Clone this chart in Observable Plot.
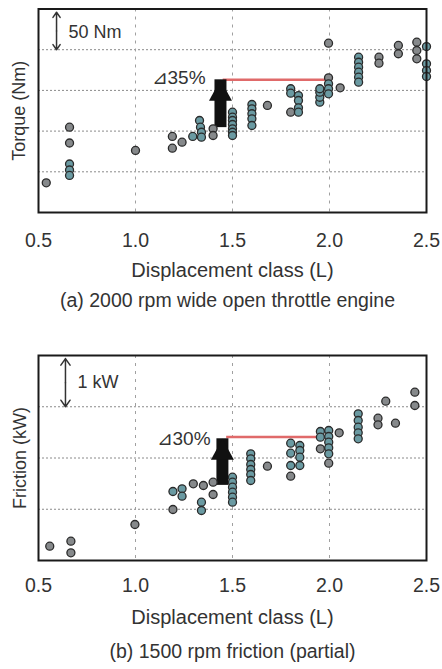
<!DOCTYPE html>
<html><head><meta charset="utf-8">
<script src="https://cdn.jsdelivr.net/npm/d3@7"></script>
<script src="https://cdn.jsdelivr.net/npm/@observablehq/plot@0.6"></script>
<style>
body{margin:0;background:#fff;width:442px;height:669px;position:relative;overflow:hidden;font-family:"Liberation Sans",Arial,sans-serif;}
#a{position:absolute;left:0;top:0}
#b{position:absolute;left:0;top:330px}
</style></head><body>
<div id="a"></div><div id="b"></div>
<script>
// ---- shared ----
const xTicks = [0.5, 1.0, 1.5, 2.0, 2.5];
const xGrid = [1.0, 1.5, 2.0];
const xLabel = "Displacement class (L)";

// ---- panel (a): 2000 rpm WOT torque ----
const torqueX = [0.54,0.66,0.66,0.66,0.66,0.66,1.00,1.19,1.24,1.19,1.295,1.33,1.335,1.34,1.34,1.40,1.40,
  1.50,1.50,1.50,1.50,1.50,1.50,1.50,1.60,1.60,1.60,1.60,1.60,1.68,1.80,1.80,1.80,1.84,1.84,1.84,1.84,
  1.95,1.95,1.95,1.95,1.995,1.995,1.995,1.995,1.995,2.055,2.15,2.15,2.15,2.15,2.15,2.15,2.255,2.255,
  2.355,2.355,2.45,2.45,2.45,2.50,2.50,2.50,2.50];
const torqueNm = [86.5,154.8,135.4,109.6,102.2,95.5,126.2,143.4,136.4,129.0,143.4,163.0,154.8,148.6,142.5,152.8,144.6,
  173.2,167.1,163.0,158.1,152.8,148.6,144.6,182.7,177.4,171.3,165.1,156.9,181.5,202.0,196.6,173.2,193.7,187.6,178.6,173.2,
  185.5,191.6,197.8,202.0,258.0,215.5,208.1,202.0,195.8,203.2,240.8,234.6,228.5,222.4,216.2,210.1,240.8,233.4,
  255.2,245.0,259.2,249.0,238.8,253.9,232.7,224.4,217.1];
const torqueTone = ["g","g","g","t","t","t","g","g","g","g","t","t","t","t","t","g","g",
  "t","t","t","t","t","t","t","t","t","t","t","t","g","t","t","g","t","t","t","t",
  "t","t","t","t","g","g","t","t","t","g","t","t","t","t","t","t","g","g",
  "g","g","g","g","g","t","t","t","t"];
const torqueGrid = [100, 150, 200, 250];
const torqueLabel = "Torque (Nm)";
const torqueCaption = "(a) 2000 rpm wide open throttle engine";
const torqueGain = {label: "⊿35%", tx: 1.361, ty: 215, x1: 1.452, x2: 1.996, y: 213, ax: 1.438, ay1: 169, ay2: 213};
const torqueScale = {label: "50 Nm", x: 0.593, lo: 250, hi: 296, tx: 0.655, ty: 272};

// ---- panel (b): 1500 rpm friction ----
const frictionX = [0.558,0.667,0.667,0.997,1.193,1.193,1.24,1.24,1.298,1.35,1.40,1.40,1.34,1.34,
  1.50,1.50,1.50,1.50,1.50,1.50,1.594,1.594,1.594,1.594,1.594,1.594,1.68,1.80,1.80,1.80,1.80,
  1.847,1.847,1.847,1.847,1.953,1.953,1.953,1.996,1.996,1.996,1.996,1.996,1.996,2.05,
  2.148,2.148,2.148,2.148,2.148,2.25,2.25,2.29,2.34,2.44,2.44];
const frictionKW = [0.279,0.377,0.150,0.702,1.346,0.995,1.399,1.255,1.497,1.463,1.528,1.288,1.138,0.976,
  1.625,1.528,1.430,1.333,1.235,1.138,2.082,1.984,1.873,1.776,1.678,1.561,1.840,2.289,2.094,1.854,1.645,
  2.244,2.146,2.016,1.854,2.517,2.406,2.180,2.537,2.420,2.308,2.199,2.082,1.899,2.492,
  2.862,2.732,2.601,2.492,2.375,2.777,2.648,3.108,2.679,3.284,3.024];
const frictionTone = ["g","g","g","g","t","g","t","t","g","g","g","g","t","t",
  "t","t","t","t","t","t","t","t","t","t","t","t","g","t","t","t","g",
  "t","t","t","t","t","t","g","t","t","t","t","t","g","g",
  "t","t","t","t","t","g","g","g","g","g","g"];
const frictionGrid = [1, 2, 3];
const frictionLabel = "Friction (kW)";
const frictionCaption = "(b) 1500 rpm friction (partial)";
const frictionGain = {label: "⊿30%", tx: 1.387, ty: 2.38, x1: 1.47, x2: 1.97, y: 2.41, ax: 1.448, ay1: 1.70, ay2: 2.375};
const frictionScale = {label: "1 kW", x: 0.639, lo: 3, hi: 3.94, tx: 0.701, ty: 3.47};

const FONT = '"Liberation Sans", Arial, Helvetica, sans-serif';
const TXT = "#333";
const headSymbol = {draw(ctx) { ctx.moveTo(0, 0); ctx.lineTo(-11.5, 21); ctx.lineTo(11.5, 21); ctx.closePath(); }};

function panel({xs, ys, tones, yDomain, grid, yLabel, caption, gain, scaleMark, height, marginTop, marginBottom,
                tickPad, labelDy, capDy, capDx, yLabelDx}) {
  const rows = xs.map((x, i) => ({x, y: ys[i], tone: tones[i]}));
  return Plot.plot({
    width: 442, height, marginTop, marginBottom, marginLeft: 38, marginRight: 16,
    x: {domain: [0.5, 2.5]},
    y: {domain: yDomain, axis: null},
    color: {domain: ["g", "t"], range: ["#86898b", "#6a9aa2"]},
    style: {fontFamily: FONT, background: "white"},
    marks: [
      Plot.gridY(grid, {stroke: "#8a8a8a", strokeOpacity: 1, strokeDasharray: "2,2"}),
      Plot.gridX(xGrid, {stroke: "#a0a0a0", strokeOpacity: 1, strokeDasharray: "3,5"}),
      Plot.axisX(xTicks, {tickSize: 0, tickPadding: tickPad, fontSize: 19.5, fill: TXT, tickFormat: d => d.toFixed(1), label: null}),
      Plot.ruleY([gain], {x1: "x1", x2: "x2", y: "y", stroke: "#e06a6a", strokeWidth: 2.5}),
      Plot.ruleX([gain], {x: "ax", y1: "ay1", y2: "ay2", stroke: "#111", strokeWidth: 12, insetTop: 12}),
      Plot.dot([gain], {x: "ax", y: "ay2", symbol: headSymbol, r: 10, fill: "#111"}),
      Plot.text([gain], {x: "tx", y: "ty", text: "label", textAnchor: "end", lineAnchor: "middle", fontSize: 19, fill: TXT}),
      Plot.dot(rows, {x: "x", y: "y", r: 4, fill: "tone", stroke: "#2b2b2b", strokeWidth: 1.3}),
      Plot.arrow([scaleMark], {x1: "x", x2: "x", y1: d => (d.lo + d.hi) / 2, y2: "hi", stroke: "#333", strokeWidth: 1.5, headLength: 9, headAngle: 70}),
      Plot.arrow([scaleMark], {x1: "x", x2: "x", y1: d => (d.lo + d.hi) / 2, y2: "lo", stroke: "#333", strokeWidth: 1.5, headLength: 9, headAngle: 70}),
      Plot.text([scaleMark], {x: "tx", y: "ty", text: "label", textAnchor: "start", lineAnchor: "middle", fontSize: 18, fill: TXT}),
      Plot.frame({stroke: "#1a1a1a", strokeWidth: 2}),
      Plot.text([yLabel], {frameAnchor: "left", dx: yLabelDx, rotate: -90, textAnchor: "middle", lineAnchor: "middle", fontSize: 18, fill: TXT}),
      Plot.text([xLabel], {frameAnchor: "bottom", dy: labelDy, textAnchor: "middle", lineAnchor: "middle", fontSize: 20, fill: TXT}),
      Plot.text([caption], {frameAnchor: "bottom", dy: capDy, dx: capDx, textAnchor: "middle", lineAnchor: "middle", fontSize: 19.5, fill: TXT})
    ]
  });
}

document.getElementById("a").append(panel({
  xs: torqueX, ys: torqueNm, tones: torqueTone, yDomain: [50, 300], grid: torqueGrid,
  yLabel: torqueLabel, caption: torqueCaption, gain: torqueGain, scaleMark: torqueScale,
  height: 320, marginTop: 8.5, marginBottom: 108, tickPad: 21, labelDy: 58, capDy: 88, capDx: -5, yLabelDx: -19
}));
document.getElementById("b").append(panel({
  xs: frictionX, ys: frictionKW, tones: frictionTone, yDomain: [0, 4], grid: frictionGrid,
  yLabel: frictionLabel, caption: frictionCaption, gain: frictionGain, scaleMark: frictionScale,
  height: 339, marginTop: 25, marginBottom: 109, tickPad: 18, labelDy: 57, capDy: 91, capDx: 0, yLabelDx: -18
}));
</script>
</body></html>
